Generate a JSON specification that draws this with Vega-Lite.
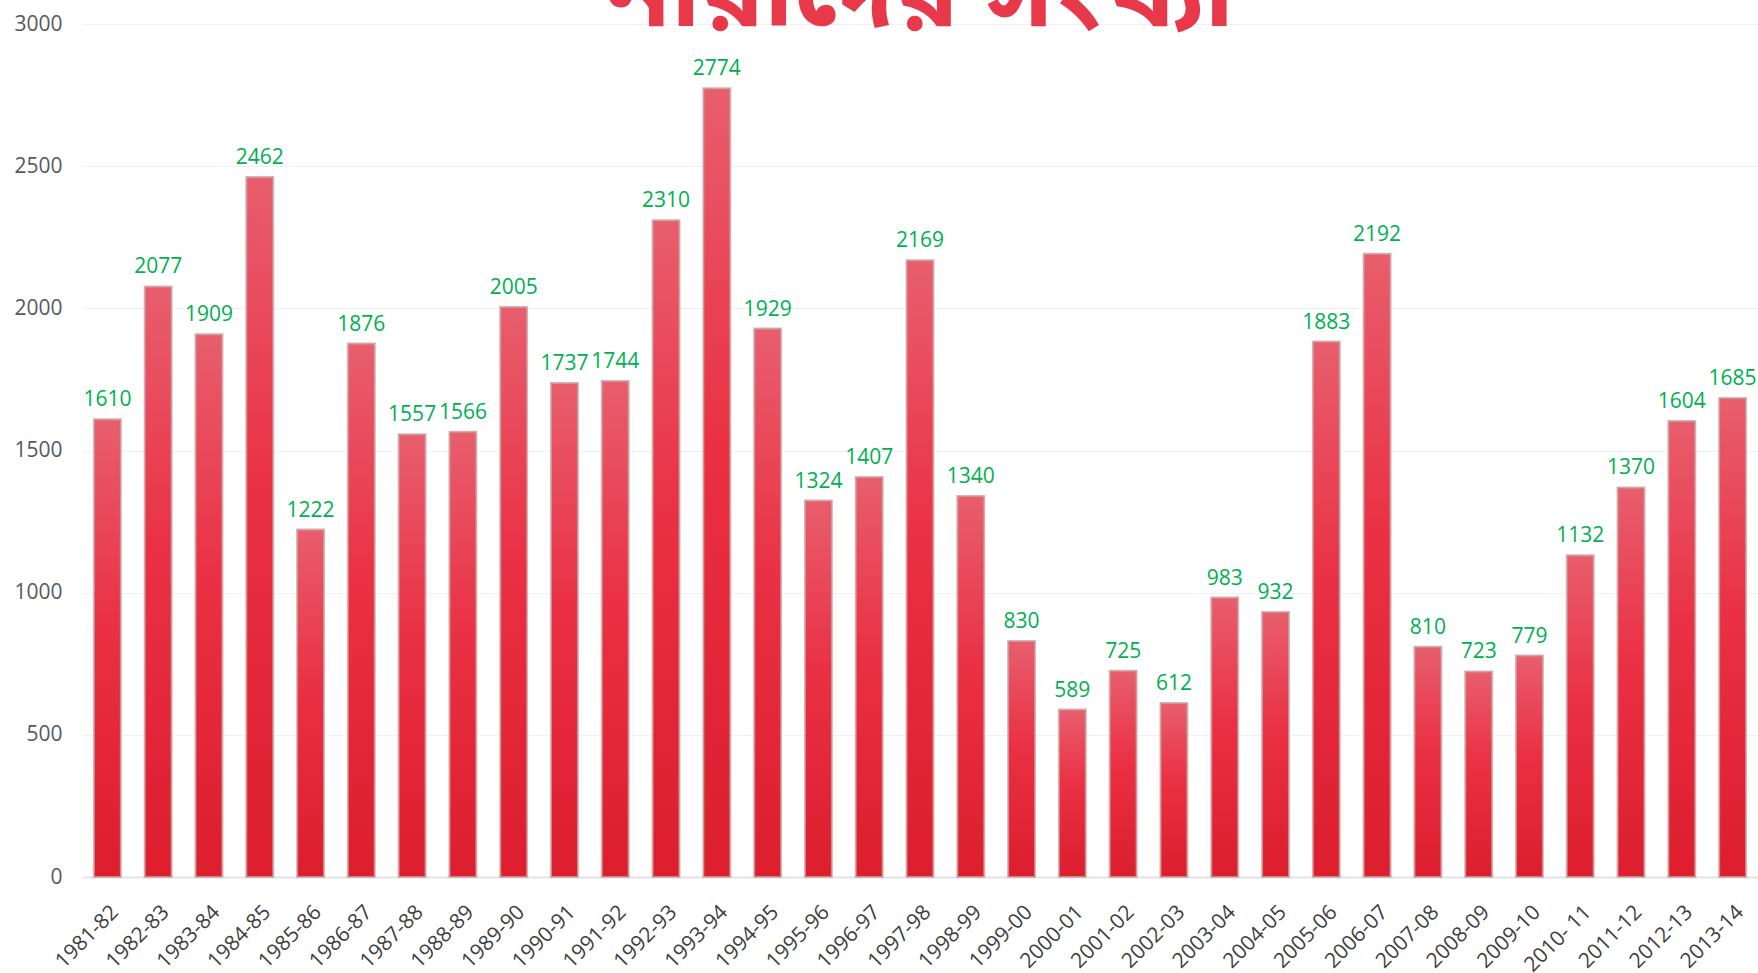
{
  "$schema": "https://vega.github.io/schema/vega-lite/v6.json",
  "width": 1676,
  "height": 853,
  "autosize": {"type": "none"},
  "padding": {"left": 82, "top": 24, "right": 0, "bottom": 96},
  "background": "white",
  "title": {
    "text": "নারীদের সংখ্যা",
    "font": "Noto Sans Bengali, Noto Sans, sans-serif",
    "fontSize": 105,
    "fontWeight": "bold",
    "color": "#e8394a",
    "anchor": "middle",
    "baseline": "alphabetic",
    "offset": 0,
    "dy": 118
  },
  "config": {
    "view": {"stroke": null},
    "font": "Open Sans"
  },
  "data": {
    "values": [
      {"year": "1981-82", "value": 1610},
      {"year": "1982-83", "value": 2077},
      {"year": "1983-84", "value": 1909},
      {"year": "1984-85", "value": 2462},
      {"year": "1985-86", "value": 1222},
      {"year": "1986-87", "value": 1876},
      {"year": "1987-88", "value": 1557},
      {"year": "1988-89", "value": 1566},
      {"year": "1989-90", "value": 2005},
      {"year": "1990-91", "value": 1737},
      {"year": "1991-92", "value": 1744},
      {"year": "1992-93", "value": 2310},
      {"year": "1993-94", "value": 2774},
      {"year": "1994-95", "value": 1929},
      {"year": "1995-96", "value": 1324},
      {"year": "1996-97", "value": 1407},
      {"year": "1997-98", "value": 2169},
      {"year": "1998-99", "value": 1340},
      {"year": "1999-00", "value": 830},
      {"year": "2000-01", "value": 589},
      {"year": "2001-02", "value": 725},
      {"year": "2002-03", "value": 612},
      {"year": "2003-04", "value": 983},
      {"year": "2004-05", "value": 932},
      {"year": "2005-06", "value": 1883},
      {"year": "2006-07", "value": 2192},
      {"year": "2007-08", "value": 810},
      {"year": "2008-09", "value": 723},
      {"year": "2009-10", "value": 779},
      {"year": "2010- 11", "value": 1132},
      {"year": "2011-12", "value": 1370},
      {"year": "2012-13", "value": 1604},
      {"year": "2013-14", "value": 1685}
    ]
  },
  "encoding": {
    "x": {
      "field": "year",
      "type": "nominal",
      "sort": null,
      "scale": {"paddingInner": 0.47, "paddingOuter": 0.235},
      "axis": {
        "title": null,
        "labelAngle": -45,
        "labelFontSize": 21,
        "labelColor": "#404040",
        "labelFont": "Open Sans",
        "labelPadding": 24,
        "ticks": false,
        "domainColor": "#e3e3e3",
        "domainWidth": 2,
        "grid": false
      }
    },
    "y": {
      "field": "value",
      "type": "quantitative",
      "scale": {"domain": [0, 3000], "nice": false},
      "axis": {
        "title": null,
        "values": [0, 500, 1000, 1500, 2000, 2500, 3000],
        "format": "d",
        "labelFontSize": 21,
        "labelColor": "#595959",
        "labelFont": "Open Sans",
        "labelPadding": 20,
        "ticks": false,
        "domain": false,
        "gridColor": "#f0f0f0",
        "gridWidth": 1
      }
    }
  },
  "layer": [
    {
      "mark": {
        "type": "bar",
        "stroke": "#c9a3a3",
        "strokeWidth": 2,
        "strokeOpacity": 0.8,
        "color": {
          "gradient": "linear",
          "x1": 0, "y1": 0, "x2": 0, "y2": 1,
          "stops": [
            {"offset": 0, "color": "#e85e6d"},
            {"offset": 0.45, "color": "#ea3044"},
            {"offset": 1, "color": "#dc1e2d"}
          ]
        }
      }
    },
    {
      "mark": {
        "type": "text",
        "baseline": "alphabetic",
        "dy": -13,
        "fontSize": 21,
        "font": "Open Sans",
        "color": "#00b050"
      },
      "encoding": {
        "text": {"field": "value", "type": "quantitative", "format": "d"}
      }
    }
  ]
}
